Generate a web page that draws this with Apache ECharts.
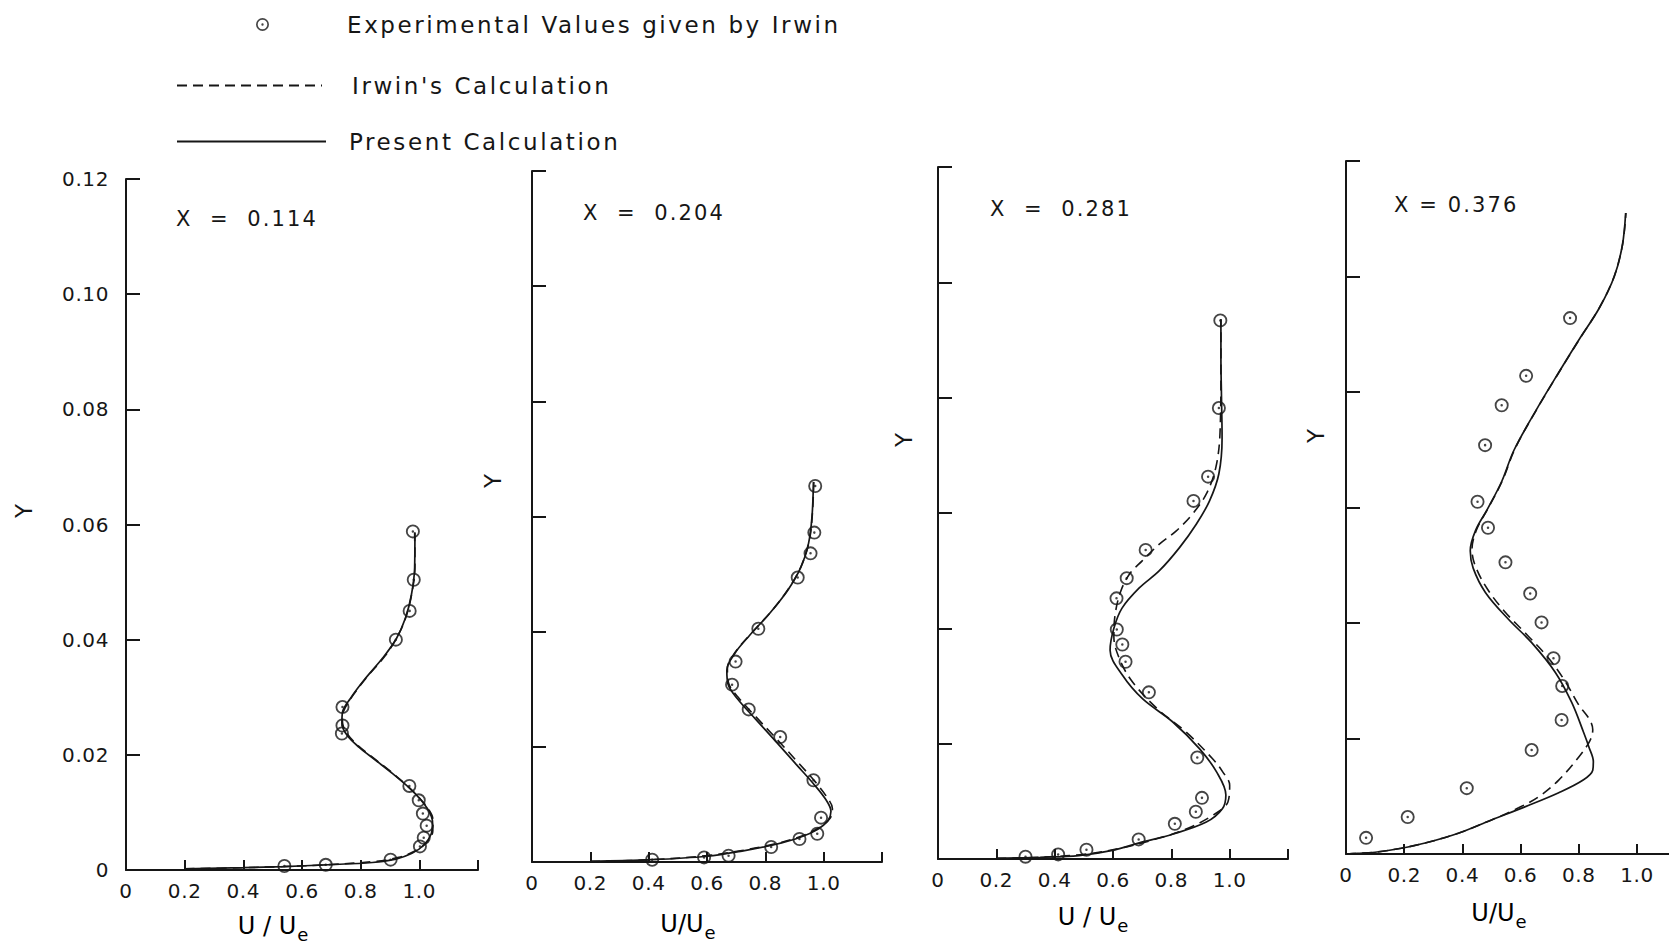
<!DOCTYPE html>
<html>
<head>
<meta charset="utf-8">
<script src="https://cdn.jsdelivr.net/npm/echarts@6/dist/echarts.min.js"></script>
<style>
  html, body { margin: 0; padding: 0; background: #fff; }
  #chart { width: 1669px; height: 947px; }
</style>
</head>
<body>
<div id="chart"></div>
<script>
// Velocity profiles U/Ue against Y at four streamwise stations X.

const stations = ['0.114', '0.204', '0.281', '0.376'];

const xTickValues = [0.2, 0.4, 0.6, 0.8, 1.0, 1.2];
const xLabelValues = [0, 0.2, 0.4, 0.6, 0.8, 1.0];
const yTickValues = [0.02, 0.04, 0.06, 0.08, 0.10, 0.12];
const yLabelValues = [0, 0.02, 0.04, 0.06, 0.08, 0.10, 0.12];

// X = 0.114
const exp114 = [[0.978, 0.0588], [0.981, 0.0504], [0.967, 0.0450], [0.920, 0.0400], [0.738, 0.0283], [0.738, 0.0251],
  [0.736, 0.0237], [0.966, 0.0146], [0.998, 0.0121], [1.012, 0.0098], [1.025, 0.0077], [1.015, 0.0056],
  [1.002, 0.0041], [0.902, 0.0018], [0.681, 0.0009], [0.540, 0.0007]];
const present114 = [[0.20, 0.0002], [0.40, 0.0004], [0.54, 0.0006], [0.68, 0.0009], [0.84, 0.0013], [0.92, 0.0019],
  [0.975, 0.0029], [1.015, 0.0043], [1.040, 0.0062], [1.045, 0.0083], [1.032, 0.0103], [1.003, 0.0123],
  [0.965, 0.0143], [0.910, 0.0167], [0.850, 0.0191], [0.795, 0.0213], [0.755, 0.0233], [0.736, 0.0254],
  [0.738, 0.0274], [0.765, 0.0298], [0.815, 0.0332], [0.875, 0.0368], [0.922, 0.0402], [0.953, 0.0438],
  [0.973, 0.0478], [0.984, 0.0525], [0.985, 0.0586]];
const irwin114 = [[0.20, 0.0002], [0.40, 0.0004], [0.54, 0.0006], [0.68, 0.0009], [0.85, 0.0015], [0.93, 0.0022],
  [0.985, 0.0033], [1.025, 0.0048], [1.046, 0.0068], [1.046, 0.0088], [1.028, 0.0108], [0.995, 0.0128],
  [0.955, 0.0148], [0.900, 0.0172], [0.840, 0.0196], [0.787, 0.0218], [0.752, 0.0238], [0.738, 0.0257],
  [0.743, 0.0277], [0.772, 0.0302], [0.823, 0.0336], [0.882, 0.0371], [0.926, 0.0406], [0.956, 0.0442],
  [0.975, 0.0482], [0.985, 0.0527], [0.984, 0.0586]];

// X = 0.204
const exp204 = [[0.971, 0.0653], [0.968, 0.0572], [0.955, 0.0536], [0.911, 0.0494], [0.776, 0.0405], [0.698, 0.0348],
  [0.686, 0.0308], [0.743, 0.0265], [0.851, 0.0217], [0.965, 0.0142], [0.991, 0.0077], [0.978, 0.0049],
  [0.917, 0.0040], [0.820, 0.0026], [0.674, 0.0011], [0.590, 0.0008], [0.412, 0.0004]];
const present204 = [[0.20, 0.0001], [0.41, 0.0004], [0.60, 0.0010], [0.72, 0.0019], [0.83, 0.0030], [0.92, 0.0043],
  [0.98, 0.0057], [1.015, 0.0072], [1.025, 0.0088], [1.008, 0.0108], [0.965, 0.0136], [0.905, 0.0170],
  [0.835, 0.0210], [0.765, 0.0249], [0.705, 0.0283], [0.672, 0.0309], [0.668, 0.0333], [0.695, 0.0362],
  [0.745, 0.0393], [0.815, 0.0432], [0.877, 0.0472], [0.922, 0.0512], [0.948, 0.0553], [0.960, 0.0600],
  [0.965, 0.0660]];
const irwin204 = [[0.20, 0.0001], [0.41, 0.0004], [0.60, 0.0011], [0.72, 0.0020], [0.83, 0.0031], [0.925, 0.0045],
  [0.985, 0.0060], [1.022, 0.0076], [1.030, 0.0093], [1.012, 0.0112], [0.970, 0.0140], [0.910, 0.0174],
  [0.840, 0.0213], [0.768, 0.0252], [0.707, 0.0286], [0.674, 0.0311], [0.670, 0.0336], [0.698, 0.0365],
  [0.750, 0.0396], [0.820, 0.0435], [0.880, 0.0475], [0.924, 0.0515], [0.950, 0.0556], [0.961, 0.0602],
  [0.966, 0.0660]];

// X = 0.281
const exp281 = [[0.968, 0.0934], [0.963, 0.0782], [0.926, 0.0663], [0.876, 0.0621], [0.712, 0.0536], [0.647, 0.0487],
  [0.612, 0.0452], [0.613, 0.0398], [0.632, 0.0372], [0.643, 0.0342], [0.723, 0.0289], [0.889, 0.0176],
  [0.905, 0.0106], [0.884, 0.0082], [0.812, 0.0061], [0.688, 0.0034], [0.509, 0.0016], [0.412, 0.0008],
  [0.300, 0.0004]];
const present281 = [[0.20, 0.0001], [0.35, 0.0003], [0.483, 0.0006], [0.598, 0.0015], [0.69, 0.0028], [0.804, 0.0043],
  [0.92, 0.0064], [0.975, 0.0087], [0.987, 0.0111], [0.955, 0.0151], [0.897, 0.0191], [0.804, 0.0238],
  [0.701, 0.0278], [0.632, 0.0319], [0.590, 0.0362], [0.603, 0.0400], [0.631, 0.0435], [0.690, 0.0470],
  [0.759, 0.0500], [0.828, 0.0540], [0.886, 0.0581], [0.931, 0.0621], [0.963, 0.0668], [0.974, 0.0730],
  [0.972, 0.0800], [0.970, 0.0870], [0.970, 0.0936]];
const irwin281 = [[0.20, 0.0001], [0.35, 0.0003], [0.50, 0.0008], [0.62, 0.0018], [0.75, 0.0035], [0.851, 0.0052],
  [0.943, 0.0076], [0.994, 0.0099], [1.000, 0.0128], [0.975, 0.0152], [0.943, 0.0173], [0.851, 0.0220],
  [0.753, 0.0260], [0.667, 0.0307], [0.624, 0.0345], [0.603, 0.0385], [0.607, 0.0423], [0.625, 0.0462],
  [0.655, 0.0493], [0.700, 0.0517], [0.759, 0.0546], [0.817, 0.0569], [0.872, 0.0598], [0.920, 0.0633],
  [0.953, 0.0680], [0.967, 0.0740], [0.970, 0.0850], [0.970, 0.0936]];

// X = 0.376
const exp376 = [[0.770, 0.0928], [0.619, 0.0828], [0.535, 0.0777], [0.478, 0.0708], [0.452, 0.0610], [0.488, 0.0565],
  [0.548, 0.0505], [0.633, 0.0451], [0.672, 0.0401], [0.713, 0.0339], [0.743, 0.0291], [0.741, 0.0232],
  [0.638, 0.0180], [0.415, 0.0114], [0.212, 0.0064], [0.069, 0.0028]];
const present376 = [[0.0, 0.0], [0.04, 0.0001], [0.10, 0.0003], [0.19, 0.0010], [0.272, 0.0019], [0.386, 0.0036],
  [0.50, 0.0059], [0.617, 0.0082], [0.731, 0.0106], [0.815, 0.0128], [0.848, 0.0145], [0.850, 0.0160],
  [0.835, 0.0185], [0.817, 0.0210], [0.776, 0.0262], [0.720, 0.0314], [0.638, 0.0366], [0.559, 0.0406],
  [0.479, 0.0453], [0.437, 0.0495], [0.427, 0.0525], [0.445, 0.0560], [0.487, 0.0598], [0.535, 0.0645],
  [0.578, 0.0700], [0.655, 0.0770], [0.730, 0.0833], [0.800, 0.0890], [0.870, 0.0945], [0.922, 0.1000],
  [0.950, 0.1055], [0.961, 0.1110]];
const irwin376 = [[0.0, 0.0], [0.04, 0.0001], [0.10, 0.0003], [0.19, 0.0010], [0.272, 0.0019], [0.386, 0.0036],
  [0.50, 0.0059], [0.593, 0.0080], [0.662, 0.0099], [0.731, 0.0128], [0.800, 0.0168], [0.838, 0.0196],
  [0.848, 0.0215], [0.838, 0.0232], [0.800, 0.0258], [0.752, 0.0300], [0.695, 0.0340], [0.625, 0.0378],
  [0.545, 0.0420], [0.487, 0.0458], [0.445, 0.0498], [0.433, 0.0527], [0.449, 0.0562], [0.490, 0.0600],
  [0.538, 0.0647], [0.581, 0.0702], [0.658, 0.0772], [0.733, 0.0835], [0.803, 0.0892], [0.872, 0.0947],
  [0.923, 0.1002], [0.951, 0.1057], [0.962, 0.1110]];

const experimental = [exp114, exp204, exp281, exp376];
const present = [present114, present204, present281, present376];
const irwin = [irwin114, irwin204, irwin281, irwin376];

const EXP_NAME = 'Experimental Values given by Irwin';
const IRWIN_NAME = "Irwin's Calculation";
const PRESENT_NAME = 'Present Calculation';

const INK = '#161616';
const FONT = '"DejaVu Sans", "Liberation Sans", sans-serif';

// open circle with a centre dot
const ringDot = 'path://M0,-10A10,10,0,1,1,0,10A10,10,0,1,1,0,-10Z' +
  'M0,-7.4A7.4,7.4,0,1,0,0,7.4A7.4,7.4,0,1,0,0,-7.4Z' +
  'M0,-1.8A1.8,1.8,0,1,1,0,1.8A1.8,1.8,0,1,1,0,-1.8Z';

// panel frames: left, top, width, height, x-axis end
const frames = [
  { left: 126, top: 179, width: 352, height: 691, xMax: 1.2 },
  { left: 532, top: 171, width: 350, height: 691, xMax: 1.2 },
  { left: 938, top: 167, width: 350, height: 692, xMax: 1.2 },
  { left: 1346, top: 161, width: 323, height: 693, xMax: 1.11 }
];

const grids = frames.map(f => ({
  left: f.left, top: f.top, width: f.width, height: f.height,
  outerBoundsMode: 'none', containLabel: false
}));

const xAxes = frames.map((f, i) => ({
  type: 'value', gridIndex: i, min: 0, max: f.xMax, interval: 0.2,
  axisLine: { show: true, onZero: false, lineStyle: { color: INK, width: 2 } },
  axisTick: { show: true, inside: true, length: 10, customValues: xTickValues.filter(v => v <= f.xMax),
    lineStyle: { color: INK, width: 2 } },
  axisLabel: { show: true, customValues: xLabelValues, margin: 11, color: INK, fontFamily: FONT, fontSize: 20,
    formatter: v => (v === 0 ? '0' : v.toFixed(1)) },
  splitLine: { show: false }
}));

const yAxes = frames.map((f, i) => ({
  type: 'value', gridIndex: i, min: 0, max: 0.12, interval: 0.02,
  axisLine: { show: true, onZero: false, lineStyle: { color: INK, width: 2 } },
  axisTick: { show: true, inside: true, length: 14, customValues: yTickValues, lineStyle: { color: INK, width: 2 } },
  axisLabel: { show: i === 0, customValues: yLabelValues, margin: 17, color: INK, fontFamily: FONT, fontSize: 20,
    formatter: v => (v === 0 ? '0' : v.toFixed(2)) },
  splitLine: { show: false }
}));

const series = [];
stations.forEach((s, i) => {
  series.push({
    name: IRWIN_NAME, type: 'line', xAxisIndex: i, yAxisIndex: i, data: irwin[i],
    smooth: 0.35, symbol: 'none', z: 2,
    lineStyle: { color: INK, width: 1.6, type: [10, 6] }, itemStyle: { color: INK }
  });
  series.push({
    name: PRESENT_NAME, type: 'line', xAxisIndex: i, yAxisIndex: i, data: present[i],
    smooth: 0.35, symbol: 'none', z: 2,
    lineStyle: { color: INK, width: 1.7, type: 'solid' }, itemStyle: { color: INK }
  });
  series.push({
    name: EXP_NAME, type: 'scatter', xAxisIndex: i, yAxisIndex: i, data: experimental[i],
    symbol: ringDot, symbolSize: 14, z: 3, itemStyle: { color: INK }
  });
});

const legendText = pad => ({ color: INK, fontFamily: FONT, fontSize: 23, padding: [0, 0, 0, pad] });

// panel captions and axis titles
const captions = [
  { text: 'X  =  0.114', x: 176, y: 219 },
  { text: 'X  =  0.204', x: 583, y: 213 },
  { text: 'X  =  0.281', x: 990, y: 209 },
  { text: 'X = 0.376', x: 1394, y: 205 }
];
const yTitles = [[24, 511], [493, 481], [904, 440], [1316, 436]];
const xTitles = [
  { text: 'U / U', x: 273, y: 926 },
  { text: 'U/U', x: 688, y: 924 },
  { text: 'U / U', x: 1093, y: 917 },
  { text: 'U/U', x: 1499, y: 913 }
];

const graphic = [];
captions.forEach(c => graphic.push({
  type: 'text', x: c.x, y: c.y, silent: true,
  style: { text: c.text, fill: INK, font: '21px ' + FONT, align: 'left', verticalAlign: 'middle' }
}));
yTitles.forEach(p => graphic.push({
  type: 'text', x: p[0], y: p[1], rotation: Math.PI / 2, silent: true,
  style: { text: 'Y', fill: INK, font: '23px ' + FONT, align: 'center', verticalAlign: 'middle' }
}));
xTitles.forEach(t => graphic.push({
  type: 'text', x: t.x, y: t.y, silent: true,
  style: {
    text: '{u|' + t.text + '}{e|e}', align: 'center', verticalAlign: 'middle',
    rich: {
      u: { fontFamily: FONT, fontSize: 24, color: INK },
      e: { fontFamily: FONT, fontSize: 18, color: INK, padding: [16, 0, 0, 1] }
    }
  }
}));

// the line legends show only the stroke, no marker
const lineLegend = (name, top, width, pad) => ({
  data: [name], left: 176, top: top, padding: 0, itemWidth: width, itemHeight: 14, selectedMode: false,
  itemStyle: { opacity: 0 }, textStyle: legendText(pad)
});

const el = document.getElementById('chart');
const chart = echarts.init(el, null, { renderer: 'svg' });
chart.setOption({
  backgroundColor: '#ffffff',
  animation: false,
  legend: [
    { data: [EXP_NAME], left: 256, top: 13, padding: 0, itemWidth: 13, itemHeight: 13, selectedMode: false,
      textStyle: legendText(73) },
    lineLegend(IRWIN_NAME, 74, 145, 25),
    lineLegend(PRESENT_NAME, 130, 149, 18)
  ],
  grid: grids,
  xAxis: xAxes,
  yAxis: yAxes,
  series: series,
  graphic: graphic
});

// widen the lettering of the legend and captions, a little for tick numbers
const legendTexts = [EXP_NAME, IRWIN_NAME, PRESENT_NAME];
const captionTexts = captions.map(c => c.text);
function spaceLettering() {
  el.querySelectorAll('text').forEach(t => {
    const s = t.textContent;
    let ls = 0;
    if (legendTexts.indexOf(s) >= 0) ls = 2.6;
    else if (captionTexts.indexOf(s) >= 0) ls = 2.1;
    else if (/^[0-9.]+$/.test(s)) ls = 0.6;
    t.style.letterSpacing = ls + 'px';
  });
}
chart.on('finished', spaceLettering);
spaceLettering();
</script>
</body>
</html>
